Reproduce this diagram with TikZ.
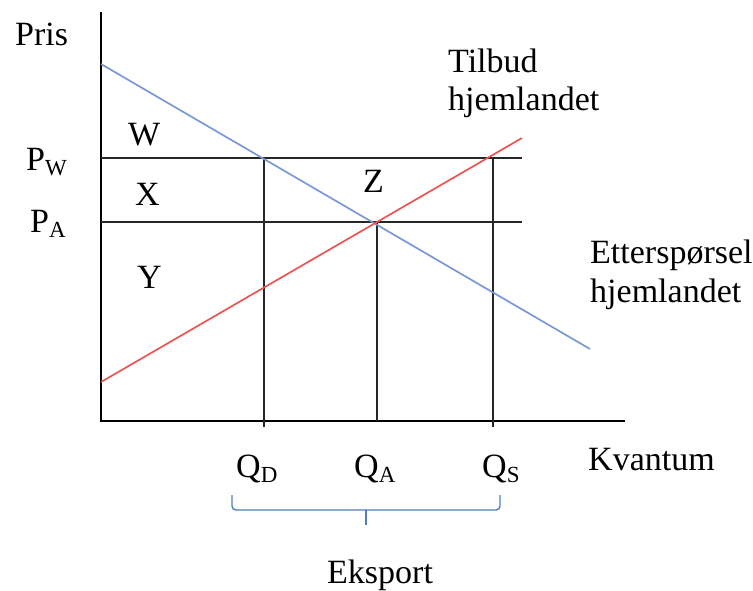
\documentclass[tikz,border=0pt]{standalone}
\usepackage{fontspec}
\setmainfont{Liberation Serif}
\definecolor{dblue}{RGB}{120,152,216}
\definecolor{sred}{RGB}{236,84,84}
\definecolor{brblue}{RGB}{80,125,200}
\newcommand{\sbs}[1]{\raisebox{-5pt}{\fontsize{23}{23}\selectfont #1}}
\begin{document}
\begin{tikzpicture}[x=1pt,y=-1pt,
  lbl/.style={inner sep=0pt,anchor=base west,font=\fontsize{34}{40}\selectfont},
  axisline/.style={line width=1.7pt,black},
  guide/.style={line width=1.5pt,black!85},
  demand/.style={line width=1.7pt,dblue},
  supply/.style={line width=1.7pt,sred},
  bracestyle/.style={line width=1.4pt,brblue,rounded corners=4pt}]
\useasboundingbox (0,0) rectangle (753,590);
% coordinates
\coordinate (O) at (101,421);
\coordinate (ytop) at (101,12);
\coordinate (xend) at (625,421);
\coordinate (d0) at (101,64);
\coordinate (d1) at (590,349);
\coordinate (s0) at (101,382);
\coordinate (s1) at (522,138);
\coordinate (pw0) at (101,158);
\coordinate (pw1) at (522,158);
\coordinate (pa0) at (101,222);
\coordinate (pa1) at (522,222);
\coordinate (qdT) at (264,158);
\coordinate (qdB) at (264,427);
\coordinate (qaT) at (377,222);
\coordinate (qaB) at (377,421);
\coordinate (qsT) at (493,158);
\coordinate (qsB) at (493,427);
\coordinate (bl) at (232,495);
\coordinate (blc) at (232,510);
\coordinate (bm) at (366,510);
\coordinate (bt) at (366,525);
\coordinate (brc) at (500,510);
\coordinate (br) at (500,495);
% axes
\draw[axisline] (ytop) -- (O) -- (xend);
% guide lines
\draw[guide] (pw0) -- (pw1);
\draw[guide] (pa0) -- (pa1);
\draw[guide] (qdT) -- (qdB);
\draw[guide] (qaT) -- (qaB);
\draw[guide] (qsT) -- (qsB);
% curves
\draw[demand] (d0) -- (d1);
\draw[supply] (s0) -- (s1);
% brace
\draw[bracestyle] (bl) -- (blc) -- (bm) -- (brc) -- (br);
\draw[bracestyle] (bm) -- (bt);
% labels
\node[lbl] (pris) at (15,45) {Pris};
\node[lbl] (w) at (128,145) {W};
\node[lbl] (x) at (135,205) {X};
\node[lbl] (y) at (137,288) {Y};
\node[lbl] (z) at (363,192) {Z};
\node[lbl] (pw) at (26,170) {P\sbs{W}};
\node[lbl] (pa) at (30,232) {P\sbs{A}};
\node[lbl] (qd) at (236,477) {Q\sbs{D}};
\node[lbl] (qa) at (354,477) {Q\sbs{A}};
\node[lbl] (qs) at (482,477) {Q\sbs{S}};
\node[lbl] (kv) at (588,470) {Kvantum};
\node[lbl] (eks) at (327,583) {Eksport};
\node[lbl] (tilb) at (448,72) {Tilbud};
\node[lbl] (tilb2) at (448,110) {hjemlandet};
\node[lbl] (ett) at (590,263) {Etterspørsel};
\node[lbl] (ett2) at (590,302) {hjemlandet};
\end{tikzpicture}
\end{document}
